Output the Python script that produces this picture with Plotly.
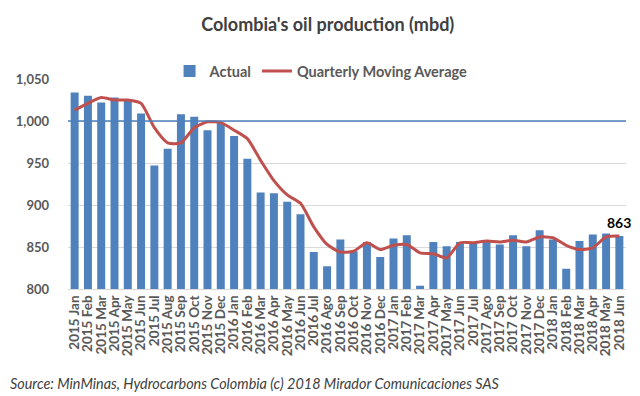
import plotly.graph_objects as go

months = ["2015 Jan","2015 Feb","2015 Mar","2015 Apr","2015 May","2015 Jun","2015 Jul","2015 Aug","2015 Sep","2015 Oct","2015 Nov","2015 Dec",
          "2016 Jan","2016 Feb","2016 Mar","2016 Apr","2016 May","2016 Jun","2016 Jul","2016 Ago","2016 Sep","2016 Oct","2016 Nov","2016 Dec",
          "2017 Jan","2017 Feb","2017 Mar","2017 Apr","2017 May","2017 Jun","2017 Jul","2017 Ago","2017 Sep","2017 Oct","2017 Nov","2017 Dec",
          "2018 Jan","2018 Feb","2018 Mar","2018 Apr","2018 May","2018 Jun"]

actual = [1034, 1030, 1022, 1028, 1026, 1009, 947, 967, 1008, 1005, 989, 998,
          982, 955, 915, 914, 904, 889, 844, 827, 859, 845, 856, 838,
          860, 864, 804, 856, 851, 856, 855, 857, 853, 864, 851, 870,
          859, 824, 857, 865, 866, 863]

moving_avg = [1013, 1021, 1028, 1025, 1025, 1021, 992, 974, 974, 992, 999, 998,
              989, 979, 953, 929, 912, 902, 874, 853, 844, 845, 855, 847,
              852, 853, 843, 842, 837, 855, 855, 857, 856, 858, 856, 862,
              861, 852, 847, 849, 862, 863]

last_label = "863"
y_ticks = [800, 850, 900, 950, 1000, 1050]

FONT = "Lato"
GRAY = "#595959"

fig = go.Figure()
fig.add_trace(go.Bar(x=months, y=actual, name="Actual", marker_color="#4F81BD",
                     marker_line_width=0))
fig.add_trace(go.Scatter(x=months, y=moving_avg, name="Quarterly Moving Average", mode="lines",
                         line=dict(color="#C0504D", width=3, shape="spline", smoothing=0.6)))

fig.add_shape(type="line", xref="paper", x0=0, x1=1, yref="y", y0=1000, y1=1000,
              line=dict(color="#4F81BD", width=1.5), layer="above")

fig.add_annotation(x=months[-1], y=moving_avg[-1], text="<b>" + last_label + "</b>", showarrow=False,
                   yshift=14, font=dict(family=FONT, size=14, color="black"))

fig.update_layout(
    width=632, height=388,
    margin=dict(l=60, r=14, t=71, b=107, autoexpand=False),
    paper_bgcolor="white", plot_bgcolor="white",
    font=dict(family=FONT, color=GRAY),
    title=dict(text="<b>Colombia's oil production (mbd)</b>", x=0.506, xanchor="center",
               y=0.956, yanchor="middle", font=dict(family=FONT, size=18, color="#404040")),
    bargap=0.4,
    showlegend=True,
    legend=dict(orientation="h", x=0.182, xanchor="left", y=1.038, yanchor="middle",
                font=dict(family=FONT, size=14.5, color=GRAY, weight="bold"), bgcolor="rgba(0,0,0,0)",
                itemwidth=30, tracegroupgap=0),
    xaxis=dict(tickangle=-90, tickmode="array", tickvals=months, ticktext=months,
               tickfont=dict(family=FONT, size=13.5, color=GRAY, weight="bold"),
               showgrid=False, showline=True, linecolor="#D9D9D9", ticks="",
               range=[-0.5, len(months) - 0.5], automargin=False),
    yaxis=dict(range=[800, 1050], tickvals=y_ticks, tickformat=",",
               tickfont=dict(family=FONT, size=13, color=GRAY, weight="bold"),
               showgrid=True, gridcolor="#D9D9D9", gridwidth=1, zeroline=False,
               ticks="", ticklen=0, ticklabelstandoff=18, automargin=False),
)

fig.add_annotation(xref="paper", yref="paper", x=-0.108, y=-0.448, xanchor="left", yanchor="middle",
                   text="<i>Source: MinMinas, Hydrocarbons Colombia (c) 2018 Mirador Comunicaciones SAS</i>",
                   showarrow=False, font=dict(family=FONT, size=14.4, color="#404040"))

fig.write_html("out.html")
